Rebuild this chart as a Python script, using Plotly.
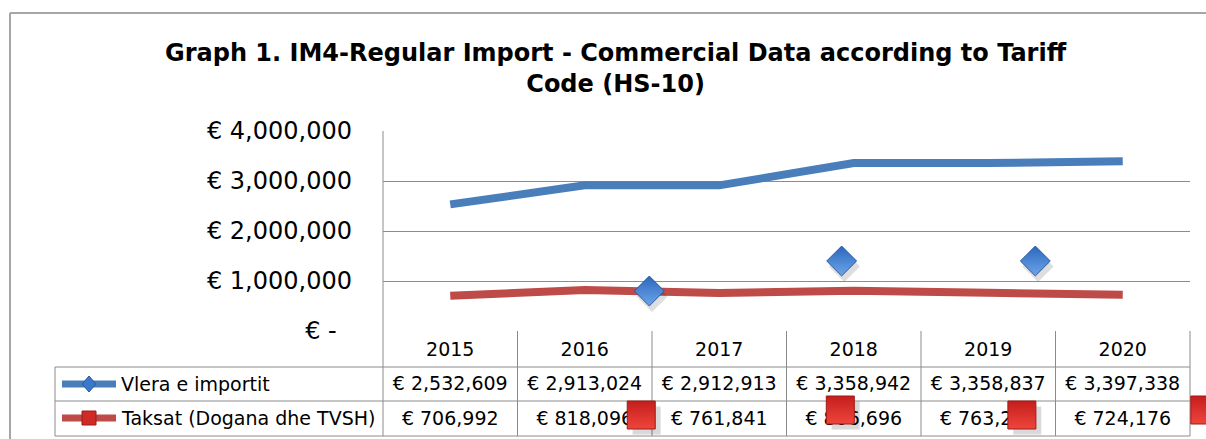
import plotly.graph_objects as go

# ---------------- data ----------------
years = ["2015", "2016", "2017", "2018", "2019", "2020"]
import_values = [2532609, 2913024, 2912913, 3358942, 3358837, 3397338]
tax_values = [706992, 818096, 761841, 806696, 763245, 724176]
import_labels = ["€ 2,532,609", "€ 2,913,024", "€ 2,912,913", "€ 3,358,942", "€ 3,358,837", "€ 3,397,338"]
tax_labels = ["€ 706,992", "€ 818,096", "€ 761,841", "€ 806,696", "€ 763,245", "€ 724,176"]
series_names = ["Vlera e importit", "Taksat (Dogana dhe TVSH)"]
y_tick_vals = [0, 1000000, 2000000, 3000000, 4000000]
y_tick_text = ["€ -\u00a0\u00a0", "€ 1,000,000", "€ 2,000,000", "€ 3,000,000", "€ 4,000,000"]
title_text = "Graph 1. IM4-Regular Import - Commercial Data according to Tariff<br>Code (HS-10)"

# stray (misplaced) markers visible in the reference rendering
stray_diamond_x = [1.48, 2.91, 4.35]
stray_diamond_y = [800000, 1400000, 1400000]
stray_square_x = [1.42, 2.90, 4.25, 5.61]
stray_square_y = [-1680000, -1580000, -1680000, -1580000]

# ---------------- layout helpers ----------------
W, H = 1206, 439
def px(x):
    return x / W
def py(y):
    return 1 - y / H

BLUE = "#4A7EBB"
RED = "#BE4B48"
GRID = "#8C8C8C"
BORDER = "#A6A6A6"
FONT = "DejaVu Sans"

plot_left, plot_right = 383, 1190
plot_top, plot_bottom = 131, 331
row1_top, row2_top, table_bottom = 367, 401, 436
table_left = 55
y_max = 4000000
px_per_unit = (plot_bottom - plot_top) / y_max
y2_min = -(H - plot_bottom) / px_per_unit
col_w = (plot_right - plot_left) / 6
x2_max = -0.5 + (W - plot_left) / col_w

def yval(pix):  # pixel row -> value on the (extended) y2 scale
    return (plot_bottom - pix) / px_per_unit

x_idx = list(range(len(years)))

fig = go.Figure()
fig.add_trace(go.Scatter(x=x_idx, y=import_values, mode="lines", name=series_names[0],
                         line=dict(color=BLUE, width=8), showlegend=False))
fig.add_trace(go.Scatter(x=x_idx, y=tax_values, mode="lines", name=series_names[1],
                         line=dict(color=RED, width=8), showlegend=False))

# data table text (drawn as text traces so stray markers can sit above them)
txt_font = dict(family=FONT, size=19, color="black")
fig.add_trace(go.Scatter(x=x_idx, y=[yval(351)] * 6, text=years, mode="text", textposition="middle center",
                         textfont=txt_font, xaxis="x2", yaxis="y2", cliponaxis=False, showlegend=False, hoverinfo="skip"))
fig.add_trace(go.Scatter(x=x_idx, y=[yval(385)] * 6, text=import_labels, mode="text", textposition="middle center",
                         textfont=txt_font, xaxis="x2", yaxis="y2", cliponaxis=False, showlegend=False, hoverinfo="skip"))
fig.add_trace(go.Scatter(x=x_idx, y=[yval(420)] * 6, text=tax_labels, mode="text", textposition="middle center",
                         textfont=txt_font, xaxis="x2", yaxis="y2", cliponaxis=False, showlegend=False, hoverinfo="skip"))

# stray markers with soft shadows
fig.add_trace(go.Scatter(x=[v + 0.02 for v in stray_diamond_x], y=[v - 110000 for v in stray_diamond_y],
                         mode="markers", showlegend=False, cliponaxis=False, hoverinfo="skip", xaxis="x2", yaxis="y2",
                         marker=dict(symbol="diamond", size=24, color="rgba(0,0,0,0.13)", line=dict(width=0))))
fig.add_trace(go.Scatter(x=stray_diamond_x, y=stray_diamond_y, mode="markers", showlegend=False,
                         cliponaxis=False, hoverinfo="skip", xaxis="x2", yaxis="y2",
                         marker=dict(symbol="diamond", size=23, color="#2B68BD",
                                     gradient=dict(type="vertical", color="#6EA4EA"),
                                     line=dict(color="#2A5A9E", width=1))))
fig.add_trace(go.Scatter(x=[v + 0.04 for v in stray_square_x], y=[v - 110000 for v in stray_square_y],
                         mode="markers", showlegend=False, cliponaxis=False, hoverinfo="skip",
                         xaxis="x2", yaxis="y2",
                         marker=dict(symbol="square", size=28, color="rgba(0,0,0,0.15)", line=dict(width=0))))
fig.add_trace(go.Scatter(x=stray_square_x, y=stray_square_y, mode="markers", showlegend=False,
                         cliponaxis=False, hoverinfo="skip", xaxis="x2", yaxis="y2",
                         marker=dict(symbol="square", size=28, color="#C41E1C",
                                     gradient=dict(type="vertical", color="#F0453C"),
                                     line=dict(color="#9E1A18", width=1))))

shapes = []
def line(x0, y0, x1, y1, color=GRID, width=1):
    shapes.append(dict(type="line", xref="paper", yref="paper", layer="below",
                       x0=px(x0), y0=py(y0), x1=px(x1), y1=py(y1),
                       line=dict(color=color, width=width)))

# outer chart border
line(10, 13, 1206, 13, BORDER, 2)
line(10, 13, 10, 439, BORDER, 2)
# plot left edge through table
line(plot_left, plot_top, plot_left, table_bottom)
# table horizontal lines
for yy in [row1_top, row2_top, table_bottom]:
    line(table_left, yy, plot_right, yy)
line(table_left, row1_top, table_left, table_bottom)
# table vertical lines
for i in range(1, 7):
    xx = plot_left + i * col_w
    line(xx, plot_bottom, xx, table_bottom)

# legend keys
line(62, 384, 116, 384, BLUE, 7)
line(62, 418, 116, 418, RED, 7)
cx, cy, r = 89, 384, 8
shapes.append(dict(type="path", xref="paper", yref="paper",
                   path=f"M {px(cx)},{py(cy-r)} L {px(cx+7)},{py(cy)} L {px(cx)},{py(cy+r)} L {px(cx-7)},{py(cy)} Z",
                   fillcolor="#3A78CC", line=dict(color="#2A5A9E", width=1)))
cx, cy = 89, 418
shapes.append(dict(type="rect", xref="paper", yref="paper",
                   x0=px(cx-7), y0=py(cy+7), x1=px(cx+7), y1=py(cy-7),
                   fillcolor="#D02A26", line=dict(color="#9E1A18", width=1)))

annotations = []
annotations.append(dict(text=title_text, xref="paper", yref="paper", x=px(616), y=py(68),
                        xanchor="center", yanchor="middle", showarrow=False,
                        font=dict(family=FONT, size=24, color="black", weight="bold")))
annotations.append(dict(text=series_names[0], xref="paper", yref="paper", x=px(119), y=py(384), showarrow=False,
                        xanchor="left", yanchor="middle", font=txt_font))
annotations.append(dict(text=series_names[1], xref="paper", yref="paper", x=px(119), y=py(418), showarrow=False,
                        xanchor="left", yanchor="middle", font=txt_font))

fig.update_layout(
    width=W, height=H, autosize=False,
    margin=dict(l=0, r=0, t=0, b=0, autoexpand=False),
    paper_bgcolor="white", plot_bgcolor="rgba(0,0,0,0)",
    showlegend=False,
    shapes=shapes, annotations=annotations,
    xaxis=dict(domain=[px(plot_left), px(plot_right)], range=[-0.5, 5.5], automargin=False,
               showgrid=False, zeroline=False, showticklabels=False, showline=False, fixedrange=True),
    yaxis=dict(domain=[py(plot_bottom), py(plot_top)], range=[0, y_max], automargin=False,
               tickvals=y_tick_vals, ticktext=y_tick_text,
               showgrid=True, gridcolor=GRID, gridwidth=1, zeroline=False, showline=False,
               ticklabelstandoff=30,
               tickfont=dict(family=FONT, size=24, color="black"), fixedrange=True),
    xaxis2=dict(domain=[px(plot_left), 1.0], range=[-0.5, x2_max], anchor="y2", visible=False,
                automargin=False, fixedrange=True),
    yaxis2=dict(domain=[0, py(plot_top)], range=[y2_min, y_max], anchor="x2", visible=False,
                automargin=False, fixedrange=True),
)

fig.write_html("out.html", config={"displayModeBar": False},
               post_script="document.body.style.margin='0';document.body.style.overflow='hidden';")
